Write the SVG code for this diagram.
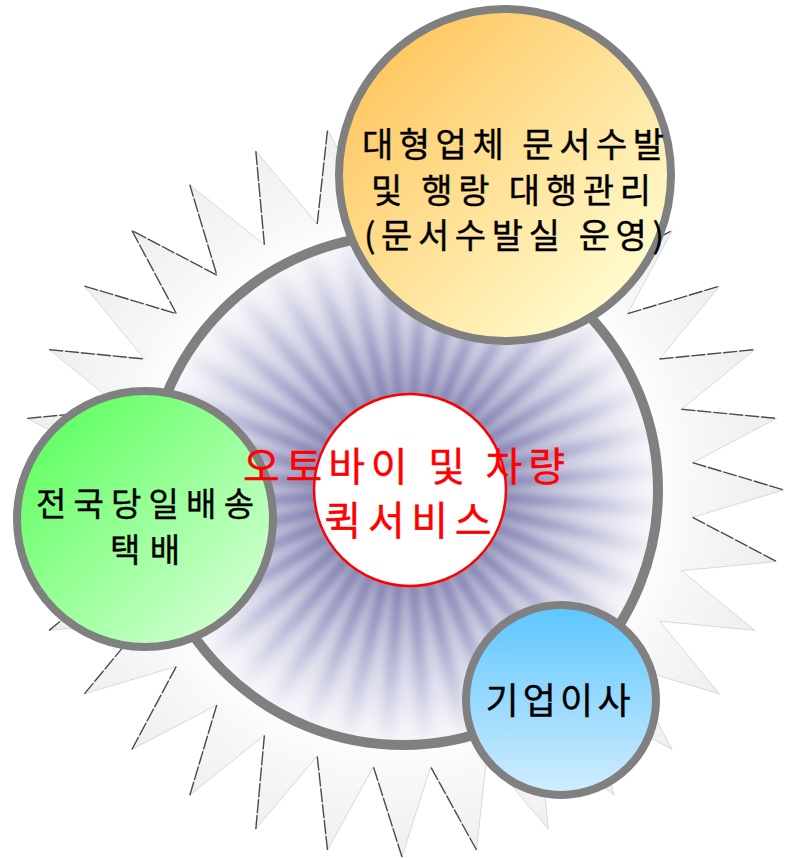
<svg xmlns="http://www.w3.org/2000/svg" width="788" height="858" viewBox="0 0 788 858">
<style>
.ring{stroke:#808080;stroke-width:8}
.lbl{font-family:"Noto Sans CJK KR","Noto Sans",sans-serif;fill:#000;stroke:#000;stroke-width:0.4;text-anchor:middle}
.red{font-family:"Noto Sans CJK KR","Noto Sans",sans-serif;fill:#ff0000;stroke:#ff0000;stroke-width:0.4;text-anchor:middle;font-size:40px}
</style>
<defs>
<radialGradient id="starFill" gradientUnits="userSpaceOnUse" cx="402" cy="490" r="390">
<stop offset="0.62" stop-color="#ffffff"/>
<stop offset="0.76" stop-color="#f7f7f9"/>
<stop offset="1" stop-color="#ededed"/>
</radialGradient>
<radialGradient id="discFill" gradientUnits="userSpaceOnUse" cx="406" cy="490" r="255">
<stop offset="0.3" stop-color="#58588f"/>
<stop offset="0.45" stop-color="#7c7cb0"/>
<stop offset="0.7" stop-color="#b6b6d6"/>
<stop offset="0.9" stop-color="#e2e2ef"/>
<stop offset="1" stop-color="#f4f4f9"/>
</radialGradient>
<linearGradient id="orangeFill" x1="0.15" y1="0.15" x2="0.85" y2="0.85">
<stop offset="0" stop-color="#ffc864"/>
<stop offset="1" stop-color="#fffbcc"/>
</linearGradient>
<linearGradient id="greenFill" x1="0.15" y1="0.15" x2="0.85" y2="0.85">
<stop offset="0" stop-color="#66ff66"/>
<stop offset="1" stop-color="#ccffcc"/>
</linearGradient>
<linearGradient id="blueFill" x1="0" y1="0" x2="0" y2="1">
<stop offset="0" stop-color="#5cc6ff"/>
<stop offset="1" stop-color="#d2edff"/>
</linearGradient>
<filter id="soft" x="-20%" y="-20%" width="140%" height="140%"><feGaussianBlur stdDeviation="4.5"/></filter>
<clipPath id="discClip"><circle cx="403" cy="490" r="255"/></clipPath>
<path id="ray" d="M406,490 L672,478 L672,502 Z"/>
<g id="rays4">
<use href="#ray"/>
<use href="#ray" transform="rotate(9 406 490)"/>
<use href="#ray" transform="rotate(18 406 490)"/>
<use href="#ray" transform="rotate(27 406 490)"/>
</g>
</defs>

<g id="starburst">
<polygon fill="url(#starFill)" stroke="#d0d0d0" stroke-width="0.8" points="784,490 692.6,517.3 776.7,561.6 681.4,570.7 754.9,630.4 659.5,621.1 719.6,693.9 627.7,666.4 672.1,749.5 587.2,704.9 614.2,795.2 539.7,735.2 548.2,829.1 486.8,756 476.5,850 430.6,766.7 402,857 373.4,766.7 327.5,850 317.2,756 255.8,829.1 264.4,735.2 189.8,795.2 216.8,704.9 131.9,749.5 176.3,666.4 84.4,693.9 144.5,621.1 49.1,630.4 122.6,570.7 27.3,561.6 111.4,517.3 20,490 111.4,462.7 27.3,418.4 122.6,409.3 49.1,349.6 144.5,359 84.4,286.1 176.3,313.6 131.9,230.5 216.8,275.1 189.8,184.8 264.4,244.8 255.8,150.9 317.2,224 327.5,130 373.4,213.3 402,123 430.6,213.3 476.5,130 486.8,224 548.2,150.9 539.7,244.8 614.2,184.8 587.2,275.1 672.1,230.5 627.7,313.6 719.6,286.1 659.5,359 754.9,349.6 681.4,409.3 776.7,418.4 692.6,462.7"/>
<path fill="none" stroke="#1a1a1a" stroke-width="1.4" stroke-dasharray="14 2" stroke-opacity="0.75" d="M692.6,517.3 L776.7,561.6 M476.5,850 L430.6,766.7 M402,857 L373.4,766.7 M327.5,850 L317.2,756 M255.8,829.1 L264.4,735.2 M189.8,795.2 L216.8,704.9 M131.9,749.5 L176.3,666.4 M84.4,693.9 L144.5,621.1 M49.1,630.4 L122.6,570.7 M27.3,561.6 L111.4,517.3 M20,490 L111.4,462.7 M27.3,418.4 L122.6,409.3 M49.1,349.6 L144.5,359 M84.4,286.1 L176.3,313.6 L131.9,230.5 L216.8,275.1 L189.8,184.8 M264.4,244.8 L255.8,150.9 M317.2,224 L327.5,130 M373.4,213.3 L402,123 M430.6,213.3 L476.5,130 M486.8,224 L548.2,150.9 M539.7,244.8 L614.2,184.8 M587.2,275.1 L672.1,230.5 M627.7,313.6 L719.6,286.1 M659.5,359 L754.9,349.6 M681.4,409.3 L776.7,418.4 M692.6,462.7 L784,490"/>
</g>

<g id="hub-disc">
<circle cx="403" cy="490" r="255" fill="url(#discFill)"/>
<g clip-path="url(#discClip)">
<g fill="#ffffff" fill-opacity="0.45" filter="url(#soft)">
<use href="#rays4"/>
<use href="#rays4" transform="rotate(36 406 490)"/>
<use href="#rays4" transform="rotate(72 406 490)"/>
<use href="#rays4" transform="rotate(108 406 490)"/>
<use href="#rays4" transform="rotate(144 406 490)"/>
<use href="#rays4" transform="rotate(180 406 490)"/>
<use href="#rays4" transform="rotate(216 406 490)"/>
<use href="#rays4" transform="rotate(252 406 490)"/>
<use href="#rays4" transform="rotate(288 406 490)"/>
<use href="#rays4" transform="rotate(324 406 490)"/>
</g>
</g>
<circle cx="403" cy="490" r="255" fill="none" stroke="#808080" stroke-width="10"/>
</g>

<g id="node-document">
<circle class="ring" cx="505" cy="175" r="166" fill="url(#orangeFill)"/>
<text class="lbl" font-size="34" x="513" y="157" textLength="302" lengthAdjust="spacing">대형업체 문서수발</text>
<text class="lbl" font-size="34" x="511" y="203" textLength="280" lengthAdjust="spacing">및 행랑 대행관리</text>
<text class="lbl" font-size="34" x="514" y="248" textLength="300" lengthAdjust="spacing">(문서수발실 운영)</text>
</g>

<g id="node-delivery">
<circle class="ring" cx="145" cy="519" r="128" fill="url(#greenFill)"/>
<text class="lbl" font-size="33" x="145" y="516" textLength="218" lengthAdjust="spacing">전국당일배송</text>
<text class="lbl" font-size="33" x="145" y="562" textLength="70" lengthAdjust="spacing">택배</text>
</g>

<g id="node-moving">
<circle class="ring" cx="561" cy="700" r="95" fill="url(#blueFill)"/>
<text class="lbl" font-size="36" x="558" y="714" textLength="145" lengthAdjust="spacing">기업이사</text>
</g>

<g id="node-center">
<circle cx="410" cy="490" r="96" fill="#ffffff" stroke="#ff0000" stroke-width="2.5"/>
<text class="red" x="404" y="481" textLength="322" lengthAdjust="spacing">오토바이 및 차량</text>
<text class="red" x="408" y="535" textLength="167" lengthAdjust="spacing">퀵서비스</text>
</g>
</svg>
